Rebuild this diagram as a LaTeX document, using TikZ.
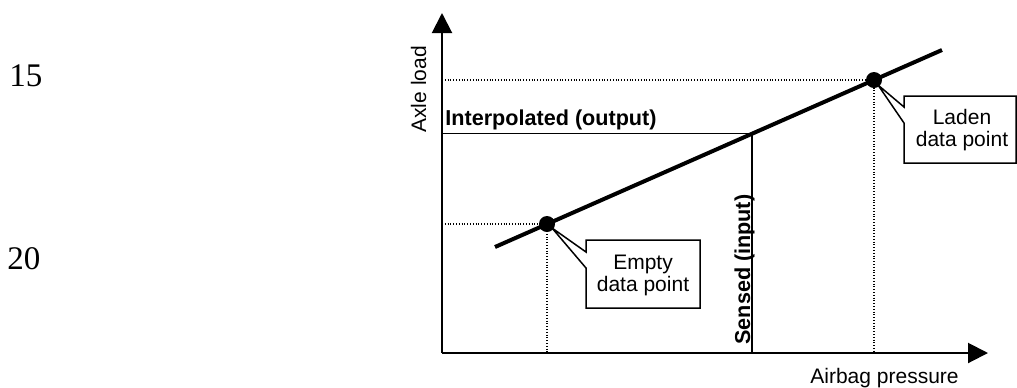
\documentclass[tikz,border=0pt]{standalone}
\usepackage{fontspec}
\setmainfont{Liberation Sans}
\newfontfamily\numfont{Liberation Serif}
\usetikzlibrary{arrows.meta}
\begin{document}
\begin{tikzpicture}[x=0.5pt,y=-0.5pt,
  axis/.style={line width=1pt,-{Triangle[length=10pt,width=10pt]}},
  thin/.style={line width=0.75pt},
  dots/.style={line width=0.6pt,dash pattern=on 0.5pt off 0.9pt},
  thick line/.style={line width=2pt},
  callout/.style={line width=0.75pt,fill=white,line join=miter},
  lbl/.style={font=\fontsize{10.5}{11}\selectfont,inner sep=0pt},
  blbl/.style={font=\fontsize{10.8}{11}\selectfont\bfseries,inner sep=0pt},
  num/.style={font=\fontsize{16.5}{18}\numfont,inner sep=0pt},
  dotpt/.style={circle,fill=black,inner sep=0pt,minimum size=8pt}]
\useasboundingbox (0,0) rectangle (1017,387);
% coordinates
\coordinate (O) at (442,353);
\coordinate (Ytip) at (442,13);
\coordinate (Xtip) at (988,353);
\coordinate (L0) at (495,247);
\coordinate (L1) at (942,50);
\coordinate (E) at (547,224);
\coordinate (F) at (874,80);
\coordinate (S) at (752,133.5);
\coordinate (Ey) at (442,224);
\coordinate (Ex) at (547,353);
\coordinate (Fy) at (442,80);
\coordinate (Fx) at (874,353);
\coordinate (Sy) at (442,133.5);
\coordinate (Sx) at (752,353);
% dotted guides
\draw[dots] (Ey) -- (E) -- (Ex);
\draw[dots] (Fy) -- (F) -- (Fx);
% interpolation lines
\draw[thin] (Sy) -- (S) -- (Sx);
% axes
\draw[axis] (O) -- (Ytip);
\draw[axis] (O) -- (Xtip);
% characteristic line
\draw[thick line] (L0) -- (L1);
% callouts
\draw[callout] (586,240) -- (700,240) -- (700,308) -- (586,308) -- (586,268) -- (552,228) -- (586,252) -- cycle;
\draw[callout] (904,96) -- (1016,96) -- (1016,163) -- (904,163) -- (904,123) -- (878,85) -- (904,107) -- cycle;
% data points
\node[dotpt] (Edot) at (E) {};
\node[dotpt] (Fdot) at (F) {};
% texts
\node[lbl,align=center] (Et) at (643,275) {Empty\\data point};
\node[lbl,align=center] (Ft) at (962,130) {Laden\\data point};
\node[lbl,rotate=90,anchor=base west] (yl) at (426,133) {Axle load};
\node[lbl,anchor=base west] (xl) at (810,383) {Airbag pressure};
\node[blbl,anchor=base west] (il) at (445,125) {Interpolated (output)};
\node[blbl,rotate=90,anchor=base west] (sl) at (750,345) {Sensed (input)};
\node[num,anchor=base west] (n15) at (9,86) {15};
\node[num,anchor=base west] (n20) at (7,269) {20};
\end{tikzpicture}
\end{document}
